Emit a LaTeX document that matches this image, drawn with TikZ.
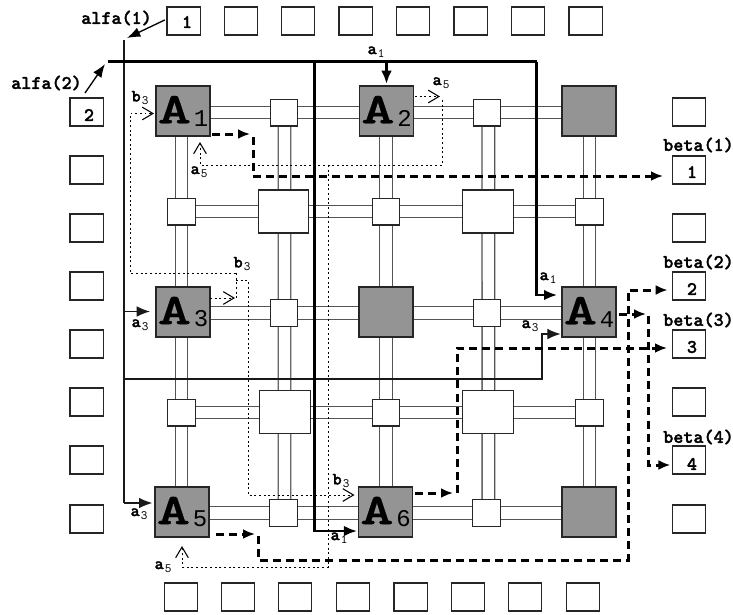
\documentclass[tikz,border=0pt]{standalone}
\usepackage{fontspec}
\usepackage{graphicx}
\newfontfamily\digitfont{Liberation Mono}
\newfontfamily\heavytt[FakeBold=1.6]{lmmonolt10-bold.otf}
\newfontfamily\bigtt[FakeBold=0.5]{lmmonolt10-bold.otf}
\usetikzlibrary{arrows.meta,backgrounds}
\definecolor{boxg}{gray}{0.58}
\definecolor{busg}{gray}{0.33}
\newcommand{\sigl}[2]{{\heavytt\fontsize{13pt}{13pt}\selectfont #1}\kern0.8pt\raisebox{-2.6pt}{\ttfamily\fontsize{9.5pt}{9.5pt}\selectfont #2}}
\newcommand{\bigA}[1]{\raisebox{1.6pt}{\scalebox{1.45}[1]{\bigtt\fontsize{33pt}{33pt}\selectfont A}}\kern2pt\raisebox{-0.5pt}{\digitfont\fontsize{18pt}{18pt}\selectfont #1}}
\tikzset{
  pad/.style={draw=black!85,fill=white,line width=1pt,inner sep=0pt,outer sep=0pt,minimum width=25pt,minimum height=21pt},
  cell/.style={draw=black!85,fill=boxg,line width=1pt,inner sep=0pt,outer sep=0pt,minimum width=40.5pt,minimum height=37.5pt},
  small/.style={draw=black!85,fill=white,line width=1pt,inner sep=0pt,outer sep=0pt,minimum width=20.6pt,minimum height=20pt},
  large/.style={draw=black!85,fill=white,line width=1pt,inner sep=0pt,outer sep=0pt,minimum width=37.9pt,minimum height=32.4pt},
  bus/.style={draw=busg,line width=1pt,double=white,double distance=8.4pt},
  txt/.style={inner sep=0pt,outer sep=0pt,font=\heavytt\fontsize{14.4pt}{14.4pt}\selectfont},
  siglab/.style={inner sep=0pt,outer sep=0pt},
  thin sig/.style={draw=black!90,line width=0.95pt},
  thick sig/.style={draw=black,line width=2.2pt},
  dash sig/.style={draw=black,line width=2.25pt,dash pattern=on 6pt off 3.8pt},
  dot sig/.style={draw=black,line width=0.7pt,dash pattern=on 1.4pt off 2.1pt},
  solidtip/.style={-{Latex[length=10pt,width=8pt]}},
  dashtip/.style={-{Latex[length=9pt,width=7.5pt]}},
  opentip/.style={-{Straight Barb[length=8pt,width=9.5pt,line width=0.8pt]}},
  pointer/.style={draw=black,line width=1pt,-{Latex[length=10pt,width=7.5pt]}},
}
\begin{document}
\begin{tikzpicture}[x=0.75pt,y=-0.75pt]
\useasboundingbox (0,0) rectangle (733,615);
% pads
\foreach \x [count=\i] in {183.5,241,298,355.5,413,470.5,528,585.5}
  \node[pad] (top\i) at (\x,21) {};
\foreach \x [count=\i] in {181,238,295,353,410.5,468,525,583}
  \node[pad] (bot\i) at (\x,597) {};
\foreach \y [count=\i] in {112,170,228,286,344,402,460,519}{
  \node[pad] (lft\i) at (86.5,\y) {};
  \node[pad] (rgt\i) at (689,\y) {};
}
% cells
\node[cell] (A1) at (183,111) {\bigA{1}};
\node[cell] (A2) at (386.5,111) {\bigA{2}};
\node[cell] (TR) at (589,111) {};
\node[cell] (A3) at (183,312) {\bigA{3}};
\node[cell] (MM) at (386,312) {};
\node[cell] (A4) at (589,312) {\bigA{4}};
\node[cell] (A5) at (182,512) {\bigA{5}};
\node[cell] (A6) at (385.5,512) {\bigA{6}};
\node[cell] (BR) at (589,512) {};
% switch boxes
\node[small] (s12) at (284,112.5) {};
\node[small] (s14) at (487,112.5) {};
\node[small] (s21) at (181.5,211.5) {};
\node[large] (s22) at (283.5,211.5) {};
\node[small] (s23) at (386,211.5) {};
\node[large] (s24) at (488,211.5) {};
\node[small] (s25) at (589.5,211.5) {};
\node[small] (s32) at (284,313) {};
\node[small] (s34) at (487,313) {};
\node[small] (s41) at (181.5,412.5) {};
\node[large] (s42) at (285,412) {};
\node[small] (s43) at (386,412.5) {};
\node[large] (s44) at (488,412) {};
\node[small] (s45) at (589.5,412.5) {};
\node[small] (s52) at (283.5,513) {};
\node[small] (s54) at (486.5,513) {};
% routing channels
\begin{scope}[on background layer]
  \draw[bus] (s12 -| A1.east) -- (s12 -| TR.west);
  \draw[bus] (s21.east) -- (s25.west);
  \draw[bus] (s32 -| A3.east) -- (s32 -| A4.west);
  \draw[bus] (s41.east) -- (s45.west);
  \draw[bus] (s52 -| A5.east) -- (s52 -| BR.west);
  \draw[bus] (s21 |- A1.south) -- (s21 |- A5.north);
  \draw[bus] ([xshift=0.4pt]s12.south) -- ([xshift=0.7pt]s52.north);
  \draw[bus] (s23 |- A2.south) -- (s23 |- A6.north);
  \draw[bus] ([xshift=1pt]s14.south) -- ([xshift=1.4pt]s54.north);
  \draw[bus] (s25 |- TR.south) -- (s25 |- BR.north);
\end{scope}
% alfa(1) thin net
\coordinate (n1) at (124,40);
\coordinate (n2) at (124,503);
\coordinate (n3) at (124,311.5);
\coordinate (n4) at (124,379);
\coordinate (n5) at (542,379);
\coordinate (n6) at (542,334);
\draw[thin sig] (n1) -- (n2);
\draw[thin sig,solidtip,shorten >=2pt] (n2) -- (n2 -| A5.west);
\draw[thin sig,solidtip,shorten >=4.5pt] (n3) -- (n3 -| A3.west);
\draw[thin sig,solidtip,shorten >=1pt] (n4) -- (n5) -- (n6) -- (n6 -| A4.west);
% alfa(2) thick net
\coordinate (m1) at (108,61.5);
\coordinate (m2) at (536.5,61.5);
\coordinate (m3) at (536.5,295);
\coordinate (m4) at (314.5,61.5);
\coordinate (m5) at (314.5,531);
\draw[thick sig] (m1) -- (m2);
\draw[thick sig,solidtip,shorten >=3.5pt] (m2) -- (m3) -- (m3 -| A4.west);
\draw[thick sig,solidtip,shorten >=1pt] (m4) -- (m5) -- (m5 -| A6.west);
\draw[thick sig,solidtip,shorten >=1.5pt] (A2.north |- m1) -- (A2.north);
% pointers
\coordinate (p1) at (127,38);
\coordinate (p2) at (105,64);
\draw[pointer] ([shift={(-1.5pt,0.8pt)}]top1.west) -- (p1);
\coordinate (p3) at (85,93);
\draw[pointer] (p3) -- (p2);
% dashed nets
\coordinate (d1) at (212,134);
\coordinate (d2) at (253,137);
\coordinate (d3) at (253,176);
\draw[dash sig,dashtip] (d1) -- (250,134);
\draw[dash sig,dashtip,shorten >=7pt] (d2) -- (d3) -- (rgt2.west |- d3);
\coordinate (e1) at (216,534);
\coordinate (e2) at (258,536);
\coordinate (e3) at (258,560);
\coordinate (e4) at (628,560);
\coordinate (e5) at (628,290);
\draw[dash sig,dashtip] (e1) -- (255,534);
\draw[dash sig,dashtip,shorten >=3.5pt] (e2) -- (e3) -- (e4) -- (e5) -- (rgt4.west |- e5);
\coordinate (f1) at (619,314);
\coordinate (f2) at (648.5,316);
\coordinate (f3) at (648.5,465);
\draw[dash sig,dashtip] (f1) -- (646,314);
\draw[dash sig,dashtip,shorten >=1.5pt] (f2) -- (f3) -- (f3 -| rgt7.west);
\coordinate (g1) at (415,493);
\coordinate (g2) at (457.5,493);
\coordinate (g3) at (457.5,348);
\draw[dash sig,dashtip] (g1) -- (453,493);
\draw[dash sig,dashtip,shorten >=4pt] (g2) -- (g3) -- (g3 -| rgt5.west);
% dotted nets
\coordinate (b0) at (130,113.5);
\coordinate (b1) at (130,273);
\coordinate (b2) at (236,273);
\coordinate (b3) at (236,298);
\coordinate (b4) at (236,280);
\coordinate (b5) at (248,280);
\coordinate (b6) at (248,495);
\draw[dot sig,opentip,shorten >=1.5pt] (b2) -- (b1) -- (b0) -- (b0 -| A1.west);
\draw[dot sig] (b2) -- (b3);
\draw[dot sig,opentip] (b3 -| A3.east) -- (235,298);
\draw[dot sig,opentip,shorten >=3pt] (b4) -- (b5) -- (b6) -- (b6 -| A6.west);
\coordinate (c1) at (415,96.5);
\coordinate (c2) at (442,100);
\coordinate (c3) at (442,165);
\coordinate (c4) at (200,165);
\coordinate (c5) at (200,142);
\coordinate (c6) at (328,165);
\coordinate (c7) at (328,567);
\coordinate (c8) at (182,567);
\coordinate (c9) at (182,546);
\draw[dot sig,opentip] (c1) -- (440,96.5);
\draw[dot sig,opentip] (c2) -- (c3) -- (c4) -- (c5);
\draw[dot sig,opentip] (c6) -- (c7) -- (c8) -- (c9);
% name labels
\node[txt] (tA1) at (116.5,18) {alfa(1)};
\node[txt] (tA2) at (46.5,83) {alfa(2)};
\node[txt] (tB1) at (698.5,145) {beta(1)};
\node[txt] (tB2) at (698.5,262) {beta(2)};
\node[txt] (tB3) at (698.5,320) {beta(3)};
\node[txt] (tB4) at (698.5,437) {beta(4)};
\node[txt] (n1t) at (187,22) {1};
\node[txt] (n2t) at (89,115) {2};
\node[txt] (r1t) at (692,172) {1};
\node[txt] (r2t) at (692,289) {2};
\node[txt] (r3t) at (692,347) {3};
\node[txt] (r4t) at (692,464) {4};
% signal labels
\node[siglab] (l1) at (376,52) {\sigl{a}{1}};
\node[siglab] (l2) at (441,83) {\sigl{a}{5}};
\node[siglab] (l3) at (140,98) {\sigl{b}{3}};
\node[siglab] (l4) at (199,172) {\sigl{a}{5}};
\node[siglab] (l5) at (242,264) {\sigl{b}{3}};
\node[siglab] (l6) at (548,278) {\sigl{a}{1}};
\node[siglab] (l7) at (140,325) {\sigl{a}{3}};
\node[siglab] (l8) at (530,326) {\sigl{a}{3}};
\node[siglab] (l9) at (341,481) {\sigl{b}{3}};
\node[siglab] (l10) at (139,514) {\sigl{a}{3}};
\node[siglab] (l11) at (339,538) {\sigl{a}{1}};
\node[siglab] (l12) at (163,567) {\sigl{a}{5}};
\end{tikzpicture}
\end{document}
